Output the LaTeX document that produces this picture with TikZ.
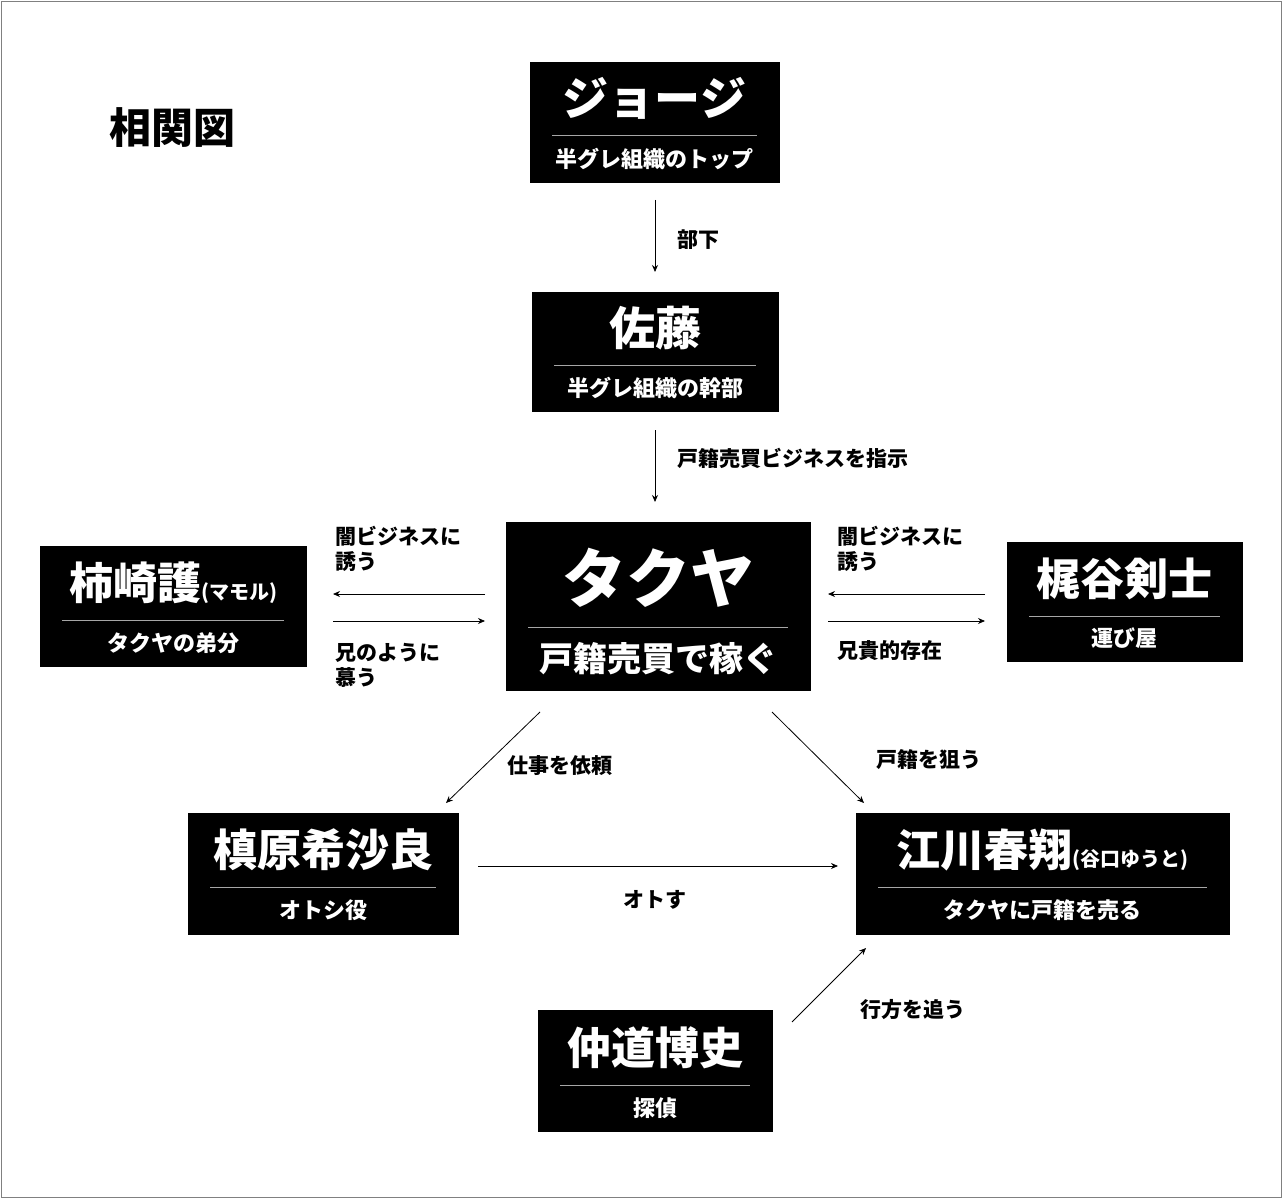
\documentclass[tikz,border=0pt]{standalone}
\usepackage{fontspec}
\setmainfont{Noto Sans CJK JP}
\usetikzlibrary{arrows.meta}
\tikzset{
 pbox/.style={fill=black,draw=black,inner sep=0pt},
 ttl/.style={text=white,font=\bfseries\fontsize{#1}{#1}\selectfont,inner sep=0pt},
 sub/.style={text=white,font=\bfseries\fontsize{22}{22}\selectfont,inner sep=0pt},
 sep/.style={draw=gray!70,line width=0.6pt},
 rel/.style={-{Stealth[length=7pt,width=6pt]},line width=0.8pt},
 lbl/.style={font=\bfseries\fontsize{21}{25}\selectfont,align=left,inner sep=0pt,anchor=west}
}
\newcommand{\mybox}[9]{%
 \path[pbox] (#2,#3) rectangle (#4,#5);
 \node[inner sep=0pt,minimum width={#4-#2},minimum height={#5-#3}] (#1) at ({(#2+#4)/2},{(#3+#5)/2}) {};
 \draw[sep] ({#2+22},#6) -- ({#4-22},#6);
 \node[ttl=#9] (#1t) at ({(#2+#4)/2},{(#3+#6)/2}) {#7};
 \node[sub] (#1s) at ({(#2+#4)/2},{(#6+#5)/2}) {#8};
}
\begin{document}
\begin{tikzpicture}[x=1pt,y=-1pt]
\useasboundingbox (0,0) rectangle (1282,1198);
\draw[gray,line width=0.8pt] (1,1) rectangle (1281,1197);
\node[font=\bfseries\fontsize{42}{42}\selectfont] (title) at (172,128) {相関図};
\mybox{joji}{530}{62}{779}{182}{135}{ジョージ}{半グレ組織のトップ}{46}
\mybox{sato}{532}{292}{778}{411}{365}{佐藤}{半グレ組織の幹部}{46}
\path[pbox] (506,522) rectangle (810,690);
\node[inner sep=0pt,minimum width=304,minimum height=168] (tak) at (658,606) {};
\node[ttl=64] (takt) at (658,578) {タクヤ};
\draw[sep] (528,627) -- (788,627);
\node[text=white,font=\bfseries\fontsize{34}{34}\selectfont] (taks) at (658,659) {戸籍売買で稼ぐ};
\mybox{kaki}{40}{546}{306}{666}{620}{柿崎護{\fontsize{20}{20}\selectfont(マモル)}}{タクヤの弟分}{44}
\mybox{kaji}{1007}{542}{1242}{661}{616}{梶谷剣士}{運び屋}{44}
\mybox{maki}{188}{813}{458}{934}{887}{槙原希沙良}{オトシ役}{44}
\mybox{ega}{856}{813}{1229}{934}{887}{江川春翔{\fontsize{20}{20}\selectfont(谷口ゆうと)}}{タクヤに戸籍を売る}{44}
\mybox{naka}{538}{1010}{772}{1131}{1085}{仲道博史}{探偵}{44}
\coordinate (a1) at (655,200); \coordinate (a2) at (655,272);
\coordinate (b1) at (655,430); \coordinate (b2) at (655,502);
\coordinate (c1) at (485,594); \coordinate (c2) at (333,594);
\coordinate (d1) at (333,621); \coordinate (d2) at (485,621);
\coordinate (e1) at (985,594); \coordinate (e2) at (828,594);
\coordinate (f1) at (828,621); \coordinate (f2) at (985,621);
\coordinate (g1) at (540,712); \coordinate (g2) at (446,803);
\coordinate (h1) at (772,712); \coordinate (h2) at (864,803);
\coordinate (i1) at (478,866); \coordinate (i2) at (838,866);
\coordinate (j1) at (792,1022); \coordinate (j2) at (866,948);
\draw[rel] (a1) -- (a2); \draw[rel] (b1) -- (b2);
\draw[rel] (c1) -- (c2); \draw[rel] (d1) -- (d2);
\draw[rel] (e1) -- (e2); \draw[rel] (f1) -- (f2);
\draw[rel] (g1) -- (g2); \draw[rel] (h1) -- (h2);
\draw[rel] (i1) -- (i2); \draw[rel] (j1) -- (j2);
\node[lbl] at (677,240) {部下};
\node[lbl] at (677,458) {戸籍売買ビジネスを指示};
\node[lbl] at (335,549) {闇ビジネスに\\誘う};
\node[lbl] at (335,665) {兄のように\\慕う};
\node[lbl] at (837,549) {闇ビジネスに\\誘う};
\node[lbl] at (837,651) {兄貴的存在};
\node[lbl] at (507,766) {仕事を依頼};
\node[lbl] at (876,760) {戸籍を狙う};
\node[lbl,anchor=center] at (655,900) {オトす};
\node[lbl] at (860,1010) {行方を追う};
\end{tikzpicture}
\end{document}
